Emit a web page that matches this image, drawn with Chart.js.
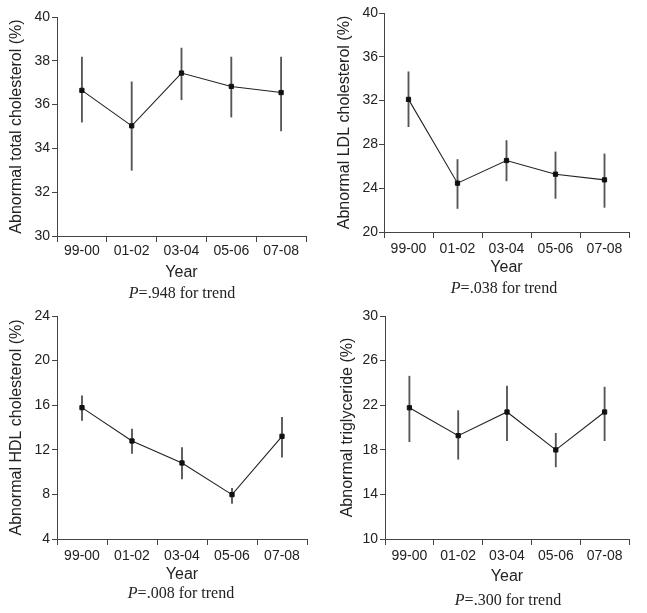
<!DOCTYPE html>
<html>
<head>
<meta charset="utf-8">
<script src="https://cdn.jsdelivr.net/npm/chart.js@4"></script>
<style>
  body { margin: 0; background: #fff; }
  #page { position: relative; width: 647px; height: 613px; overflow: hidden; }
  .panel { position: absolute; }
  .ptext { position: absolute; font: 16px "Liberation Serif", "Times New Roman", serif; color: #222; transform: translate(-50%, -50%); white-space: nowrap; }
</style>
</head>
<body>
<div id="page">
  <div class="panel" style="left:0px;top:0px;width:323px;height:300px"><canvas id="c1"></canvas></div>
  <div class="panel" style="left:323px;top:0px;width:324px;height:300px"><canvas id="c2"></canvas></div>
  <div class="panel" style="left:0px;top:300px;width:323px;height:313px"><canvas id="c3"></canvas></div>
  <div class="panel" style="left:323px;top:300px;width:324px;height:313px"><canvas id="c4"></canvas></div>
  <div class="ptext" style="left:182px;top:293px"><i>P</i>=.948 for trend</div>
  <div class="ptext" style="left:504px;top:288px"><i>P</i>=.038 for trend</div>
  <div class="ptext" style="left:181px;top:593px"><i>P</i>=.008 for trend</div>
  <div class="ptext" style="left:508px;top:600px"><i>P</i>=.300 for trend</div>
</div>
<script>
const years = ['99-00', '01-02', '03-04', '05-06', '07-08']

// abnormal total cholesterol (%)
const totalMean = [36.65, 35.03, 37.44, 36.83, 36.55]
const totalLow = [35.2, 33.0, 36.22, 35.43, 34.8]
const totalHigh = [38.17, 37.04, 38.58, 38.17, 38.17]

// abnormal LDL cholesterol (%)
const ldlMean = [32.11, 24.46, 26.53, 25.28, 24.76]
const ldlLow = [29.62, 22.15, 24.67, 23.07, 22.25]
const ldlHigh = [34.63, 26.62, 28.35, 27.31, 27.13]

// abnormal HDL cholesterol (%)
const hdlMean = [15.78, 12.79, 10.82, 7.98, 13.21]
const hdlLow = [14.64, 11.68, 9.38, 7.2, 11.35]
const hdlHigh = [16.83, 13.86, 12.19, 8.54, 14.91]

// abnormal triglyceride (%)
const trigMean = [21.77, 19.27, 21.39, 17.99, 21.39]
const trigLow = [18.73, 17.15, 18.82, 16.47, 18.82]
const trigHigh = [24.6, 21.51, 23.71, 19.48, 23.62]

// y axis ranges [min, max, step]
const totalTicks = [30, 40, 2]
const ldlTicks = [20, 40, 4]
const hdlTicks = [4, 24, 4]
const trigTicks = [10, 30, 4]

const axisColor = '#444'
const textColor = '#222'
const sans = '"Liberation Sans", Arial, sans-serif'

function makeChart(id, title, mean, low, high, ticks, lay) {
    var bars = low.map((v, i) => [v, high[i]]) // error bars as floating bars
    return new Chart(document.getElementById(id), {
        type: 'line',
        data: {
            labels: years,
            datasets: [
                {
                    type: 'line',
                    data: mean,
                    order: 0,
                    borderColor: '#222',
                    borderWidth: 1.1,
                    tension: 0,
                    pointStyle: 'rect',
                    pointRadius: 3,
                    pointBorderWidth: 1,
                    pointBackgroundColor: '#111',
                    pointBorderColor: '#111'
                },
                {
                    type: 'bar',
                    data: bars,
                    order: 1,
                    barThickness: 1.2,
                    backgroundColor: '#555',
                    borderWidth: 0
                }
            ]
        },
        options: {
            animation: false,
            responsive: true,
            maintainAspectRatio: false,
            layout: { padding: { top: lay.top, right: lay.right, left: 0, bottom: 0 } },
            plugins: { legend: { display: false }, tooltip: { enabled: false } },
            scales: {
                x: {
                    offset: true,
                    afterFit: (s) => { s.height = lay.xh },
                    border: { color: axisColor, width: 1 },
                    grid: { offset: true, drawOnChartArea: false, drawTicks: true, tickLength: 6, color: axisColor },
                    ticks: { color: textColor, padding: lay.xpad, font: { family: sans, size: 14 }, maxRotation: 0 },
                    title: { display: true, text: 'Year', color: textColor, font: { family: sans, size: 16 }, padding: { top: 0, bottom: lay.xtitle } }
                },
                y: {
                    min: ticks[0],
                    max: ticks[1],
                    afterFit: (s) => { s.width = lay.yw },
                    border: { color: axisColor, width: 1 },
                    grid: { drawOnChartArea: false, drawTicks: true, tickLength: 5, color: axisColor },
                    ticks: { stepSize: ticks[2], color: textColor, padding: lay.ypad, font: { family: sans, size: 14 } },
                    title: { display: true, text: title, color: textColor, font: { family: sans, size: 16 }, padding: { top: lay.ytitle, bottom: 0 } }
                }
            }
        }
    })
}

makeChart('c1', 'Abnormal total cholesterol (%)', totalMean, totalLow, totalHigh, totalTicks,
    { top: 17, right: 17, xh: 64, xpad: 1, xtitle: 17.7, yw: 57, ypad: 2, ytitle: 7.4 })
makeChart('c2', 'Abnormal LDL cholesterol (%)', ldlMean, ldlLow, ldlHigh, ldlTicks,
    { top: 13, right: 18, xh: 68, xpad: 3, xtitle: 22.4, yw: 61, ypad: 1, ytitle: 12.4 })
makeChart('c3', 'Abnormal HDL cholesterol (%)', hdlMean, hdlLow, hdlHigh, hdlTicks,
    { top: 16, right: 16, xh: 74, xpad: 3, xtitle: 28.4, yw: 57, ypad: 2, ytitle: 7.4 })
makeChart('c4', 'Abnormal triglyceride (%)', trigMean, trigLow, trigHigh, trigTicks,
    { top: 16, right: 18, xh: 74, xpad: 3, xtitle: 26.4, yw: 62, ypad: 2, ytitle: 15.4 })
</script>
</body>
</html>
